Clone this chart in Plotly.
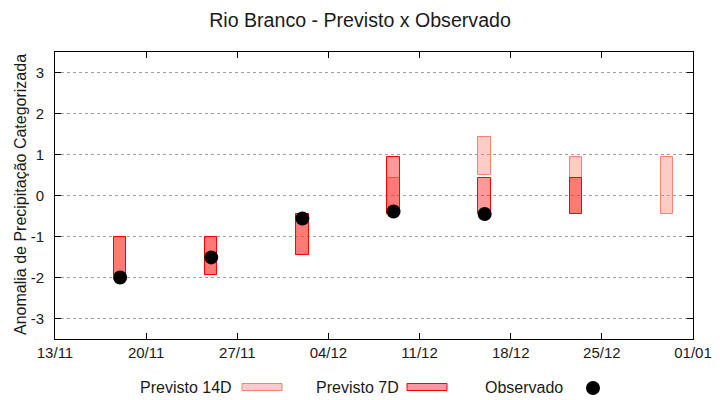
import plotly.graph_objects as go

dates = ["2023-11-18", "2023-11-25", "2023-12-02", "2023-12-09",
         "2023-12-16", "2023-12-23", "2023-12-30"]
p14_low = [-1.95, -1.95, -1.45, -0.45, 0.50, -0.45, -0.45]
p14_high = [-1.0, -1.0, -0.45, 0.43, 1.43, 0.95, 0.95]
p7_low = [-1.95, -1.95, -1.45, -0.45, -0.45, -0.45, None]
p7_high = [-1.0, -1.0, -0.45, 0.95, 0.43, 0.43, None]
obs_dates = ["2023-11-18", "2023-11-25", "2023-12-02", "2023-12-09", "2023-12-16"]
obs_vals = [-2.0, -1.51, -0.56, -0.39, -0.45]
y_ticks = [-3, -2, -1, 0, 1, 2, 3]

DAY = 86400000
FONT = "Liberation Sans, Arial, sans-serif"
TXT = "#1a1a1a"

def spans(lo, hi):
    return [None if (a is None or b is None) else b - a for a, b in zip(lo, hi)]

fig = go.Figure()
fig.add_trace(go.Bar(
    x=dates, base=p14_low, y=spans(p14_low, p14_high), width=0.95 * DAY,
    marker=dict(color="rgba(250,128,114,0.4)", line=dict(color="#fa8072", width=1)),
    name="Previsto 14D", showlegend=False))
fig.add_trace(go.Bar(
    x=dates, base=p7_low, y=spans(p7_low, p7_high), width=0.95 * DAY,
    marker=dict(color="rgba(255,0,0,0.4)", line=dict(color="#ff0000", width=1)),
    name="Previsto 7D", showlegend=False))
fig.add_trace(go.Scatter(
    x=obs_dates, y=obs_vals, mode="markers",
    marker=dict(color="black", size=14, line=dict(width=0)),
    name="Observado", showlegend=False))

# page has an 8px body margin: figure occupies screen x 8..720, y 8..400
OFF = 8
ML, MR, MT, MB = 47, 27, 44, 61
FW, FH = 712, 392
PW = FW - ML - MR
PH = FH - MT - MB

def px(xs):
    return (xs - OFF - ML) / PW

def py(ys):
    return (FH - MB - (ys - OFF)) / PH

leg_y = py(387)
half_h = 3.5 / PH
items = [
    ("Previsto 14D", 234, 242, "rgba(250,128,114,0.4)", "#fa8072"),
    ("Previsto 7D", 401, 407, "rgba(255,0,0,0.4)", "#ff0000"),
]
for text, tx, bx, fc, lc in items:
    fig.add_annotation(x=px(tx), y=leg_y, xref="paper", yref="paper", text=text,
                       showarrow=False, xanchor="right", yanchor="middle",
                       font=dict(size=16, color=TXT, family=FONT))
    fig.add_shape(type="rect", xref="paper", yref="paper",
                  x0=px(bx), x1=px(bx + 40), y0=leg_y - half_h, y1=leg_y + half_h,
                  fillcolor=fc, line=dict(color=lc, width=1))
fig.add_annotation(x=px(565), y=leg_y, xref="paper", yref="paper", text="Observado",
                   showarrow=False, xanchor="right", yanchor="middle",
                   font=dict(size=16, color=TXT, family=FONT))
fig.add_shape(type="circle", xref="paper", yref="paper",
              x0=px(586), x1=px(600), y0=py(395), y1=py(381),
              fillcolor="black", line=dict(width=0))

# y-axis title
fig.add_annotation(x=px(20), y=py(195), xref="paper", yref="paper",
                   text="Anomalia de Precipitação Categorizada", textangle=-90,
                   showarrow=False, xanchor="center", yanchor="middle",
                   font=dict(size=16, color=TXT, family=FONT))

fig.update_layout(
    width=FW, height=FH,
    margin=dict(l=ML, r=MR, t=MT, b=MB, autoexpand=False),
    paper_bgcolor="white", plot_bgcolor="white",
    barmode="overlay", bargap=0,
    title=dict(text="Rio Branco - Previsto x Observado", x=(360 - OFF) / FW,
               xanchor="center", y=1 - (20 - OFF) / FH, yanchor="middle",
               font=dict(size=19.6, color=TXT, family=FONT)),
    font=dict(family=FONT, size=15, color=TXT),
)
fig.update_xaxes(
    type="date", range=["2023-11-13", "2024-01-01"],
    tick0="2023-11-13", dtick=7 * DAY, tickformat="%d/%m",
    showgrid=False, zeroline=False,
    showline=True, linecolor="black", linewidth=1, mirror="allticks",
    ticks="inside", ticklen=6, tickcolor="black",
    tickfont=dict(size=15, family=FONT, color=TXT), ticklabelstandoff=0,
)
fig.update_yaxes(
    range=[-3.5, 3.5], tickvals=y_ticks, ticktext=[str(v) for v in y_ticks],
    showgrid=True, gridcolor="#a0a0a0", griddash="dot", gridwidth=1,
    zeroline=False,
    showline=True, linecolor="black", linewidth=1, mirror="allticks",
    ticks="inside", ticklen=6, tickcolor="black",
    tickfont=dict(size=15, family=FONT, color=TXT), ticklabelstandoff=7,
)

fig.write_html("out.html")
